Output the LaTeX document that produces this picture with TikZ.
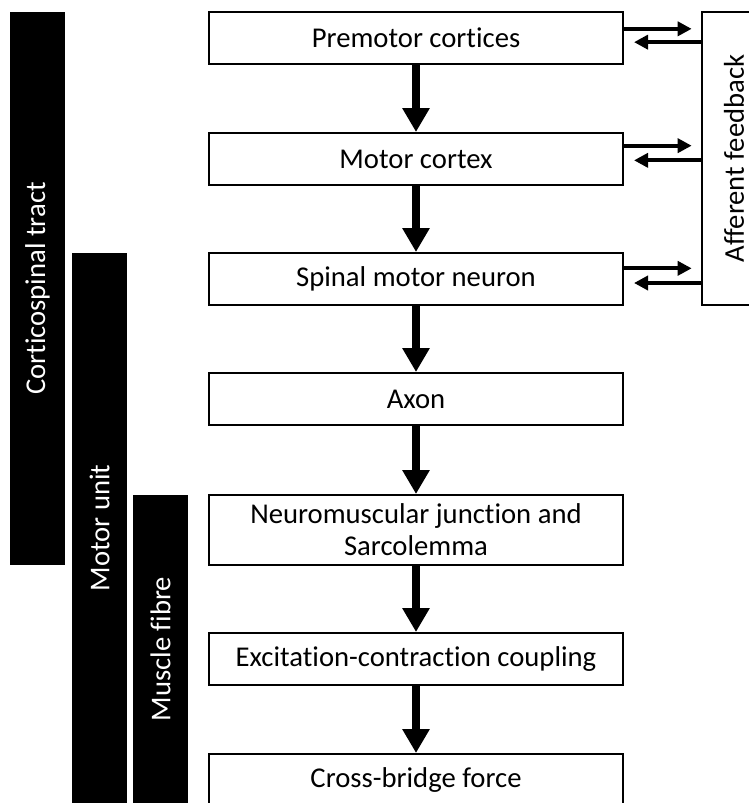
\documentclass[tikz,border=0pt]{standalone}
\usepackage{fontspec}
\setmainfont{Carlito}[Ligatures=NoCommon]
\usepackage{tikz}
\usetikzlibrary{positioning, arrows.meta}

\tikzset{
  stepbox/.style={draw,line width=1.5pt,fill=white,minimum width=310.5pt,minimum height=39pt,inner sep=2pt,align=center,font=\fontsize{21.5}{24}\selectfont},
  levelbar/.style={fill=black,text=white,rotate=90,minimum height=41.25pt,inner sep=0pt,font=\fontsize{21.5}{24}\selectfont},
  downarrow/.style={line width=6pt,-{Triangle[length=18pt,width=19.5pt]}},
  sidearrow/.style={line width=3pt,-{Triangle[length=10.5pt,width=10.5pt]}}
}

\begin{document}
\begin{tikzpicture}[x=0.75pt,y=-0.75pt]
            \useasboundingbox (0,0) rectangle (749,803);
            \clip (0,0) rectangle (749,803);

            \node[stepbox] (premotor) at (416,37.5) {Premotor cortices};
            \node[stepbox] (motor) at (416,159) {Motor cortex};
            \node[stepbox] (spinal) at (416,279) {Spinal motor neuron};
            \node[stepbox] (axon) at (416,399) {Axon};
            \node[stepbox,minimum height=52.5pt] (nmj) at (416,530) {Neuromuscular junction and\\Sarcolemma};
            \node[stepbox] (ecc) at (416,659) {Excitation-contraction coupling};
            \node[stepbox] (xbridge) at (416,780) {Cross-bridge force};

            \node[draw,line width=1.5pt,rotate=90,minimum width=219.75pt,minimum height=48pt,font=\fontsize{21.5}{24}\selectfont] (afferent) at (734,158.5) {Afferent feedback};

            \node[levelbar,minimum width=414.75pt] (tract) at (37.5,288.5) {Corticospinal tract};
            \node[levelbar,minimum width=412.5pt] (unit) at (99.5,528) {Motor unit};
            \node[levelbar,minimum width=231pt] (fibre) at (160.5,649) {Muscle fibre};

            \draw[downarrow] (premotor) -- (motor);
            \draw[downarrow] (motor) -- (spinal);
            \draw[downarrow] (spinal) -- (axon);
            \draw[downarrow] (axon) -- (nmj);
            \draw[downarrow] (nmj) -- (ecc);
            \draw[downarrow] (ecc) -- (xbridge);

            \draw[sidearrow,shorten >=7pt] ([yshift=6.5pt]premotor.east) -- ([yshift=6.5pt]premotor.east -| afferent.north);
            \draw[sidearrow,shorten >=7.5pt] ([yshift=-3.5pt]premotor.east -| afferent.north) -- ([yshift=-3.5pt]premotor.east);
            \draw[sidearrow,shorten >=7pt] ([yshift=10pt]motor.east) -- ([yshift=10pt]motor.east -| afferent.north);
            \draw[sidearrow,shorten >=7.5pt] ([yshift=-1pt]motor.east -| afferent.north) -- ([yshift=-1pt]motor.east);
            \draw[sidearrow,shorten >=7pt] ([yshift=8pt]spinal.east) -- ([yshift=8pt]spinal.east -| afferent.north);
            \draw[sidearrow,shorten >=7.5pt] ([yshift=-3pt]spinal.east -| afferent.north) -- ([yshift=-3pt]spinal.east);
        \end{tikzpicture}
\end{document}
